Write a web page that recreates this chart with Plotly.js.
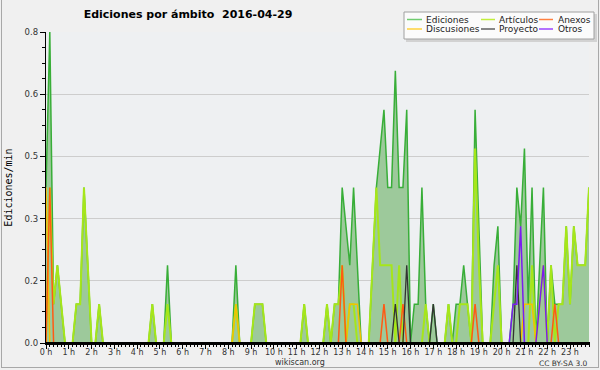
<!DOCTYPE html>
<html><head><meta charset="utf-8">
<script src="https://cdn.plot.ly/plotly-3.0.1.min.js"></script>
<style>
html,body{margin:0;padding:0;background:#f0f0f0;}
#chart{width:600px;height:370px;}
#frame{position:absolute;left:1px;top:0px;width:596px;height:367px;border:1px solid #a8a8a8;border-top:none;pointer-events:none;}
</style></head><body>
<div id="chart"></div><div id="frame"></div>
<script>
// ---- data: edits per minute, 10-minute bins from 00:00 to 23:50 (144 bins) ----
const seriesNames = ['Ediciones','Artículos','Anexos','Discusiones','Proyecto','Otros'];

const ediciones = [
 0.4,0.8,0.1,0.2,0.1,0,0,0,0.1,0.1,0.4,0.2,
 0,0,0.1,0,0,0,0,0,0,0,0,0,
 0,0,0,0,0.1,0,0,0,0.2,0,0,0,
 0,0,0,0,0,0,0,0,0,0,0,0,
 0,0,0.2,0,0,0,0,0.1,0.1,0.1,0,0,
 0,0,0,0,0,0,0,0,0.1,0,0,0,
 0,0,0.1,0,0.1,0.1,0.4,0.3,0.2,0.4,0.2,0,
 0,0,0.2,0.4,0.5,0.6,0.4,0.4,0.7,0.4,0.4,0.6,
 0,0.1,0.1,0.4,0.1,0,0.1,0,0,0,0.1,0,
 0.1,0.1,0.2,0.1,0,0.6,0.3,0,0,0,0.2,0.3,
 0,0,0,0.1,0.4,0.3,0.5,0.1,0.4,0,0.2,0.4,
 0,0.2,0.1,0.1,0.1,0.3,0.1,0.3,0.2,0.2,0.2,0.4
];
const articulos = [
 0,0.4,0.1,0.2,0.1,0,0,0,0.1,0.1,0.4,0.2,
 0,0,0.1,0,0,0,0,0,0,0,0,0,
 0,0,0,0,0.1,0,0,0,0.1,0,0,0,
 0,0,0,0,0,0,0,0,0,0,0,0,
 0,0,0.1,0,0,0,0,0.1,0.1,0.1,0,0,
 0,0,0,0,0,0,0,0,0.1,0,0,0,
 0,0,0.1,0,0.1,0.1,0.2,0,0.1,0.1,0,0,
 0,0,0.2,0.4,0.2,0.2,0.2,0.2,0,0.2,0,0,
 0,0,0,0,0.1,0,0,0,0,0,0.1,0,
 0,0.1,0.1,0.1,0,0.5,0.2,0,0,0,0.1,0.2,
 0,0,0,0,0,0,0,0,0.2,0,0.1,0.2,
 0,0.2,0,0.1,0.1,0.3,0.1,0.3,0.2,0.2,0.2,0.4
];
const anexos = [
 0,0.4,0,0,0,0,0,0,0,0,0,0,
 0,0,0,0,0,0,0,0,0,0,0,0,
 0,0,0,0,0,0,0,0,0,0,0,0,
 0,0,0,0,0,0,0,0,0,0,0,0,
 0,0,0,0,0,0,0,0,0,0,0,0,
 0,0,0,0,0,0,0,0,0,0,0,0,
 0,0,0,0,0,0,0.2,0,0,0,0,0,
 0,0,0,0,0,0.1,0,0,0,0,0.1,0,
 0,0,0,0,0,0,0,0,0,0,0,0,
 0,0,0,0,0,0.1,0,0,0,0,0,0,
 0,0,0,0,0,0,0,0,0,0,0,0,
 0,0,0.1,0,0,0,0,0,0,0,0,0
];
const discusiones = [
 0.4,0,0,0,0,0,0,0,0,0,0,0,
 0,0,0,0,0,0,0,0,0,0,0,0,
 0,0,0,0,0,0,0,0,0,0,0,0,
 0,0,0,0,0,0,0,0,0,0,0,0,
 0,0,0.1,0,0,0,0,0,0,0,0,0,
 0,0,0,0,0,0,0,0,0,0,0,0,
 0,0,0,0,0,0,0,0,0.1,0.1,0.1,0,
 0,0,0,0,0,0,0,0,0,0,0,0,
 0,0,0,0,0,0,0,0,0,0,0,0,
 0,0,0,0,0,0,0,0,0,0,0,0,
 0,0,0,0,0,0,0.1,0.1,0.1,0,0,0,
 0,0,0,0,0,0,0,0,0,0,0,0
];
const proyecto = [
 0,0,0,0,0,0,0,0,0,0,0,0,
 0,0,0,0,0,0,0,0,0,0,0,0,
 0,0,0,0,0,0,0,0,0,0,0,0,
 0,0,0,0,0,0,0,0,0,0,0,0,
 0,0,0,0,0,0,0,0,0,0,0,0,
 0,0,0,0,0,0,0,0,0,0,0,0,
 0,0,0,0,0,0,0,0,0,0,0,0,
 0,0,0,0,0,0,0,0,0.1,0,0,0.2,
 0,0,0,0,0,0,0.1,0,0,0,0,0,
 0,0,0,0,0,0,0,0,0,0,0,0,
 0,0,0,0,0.2,0,0,0,0,0,0,0,
 0,0,0,0,0,0,0,0,0,0,0,0
];
const otros = [
 0,0,0,0,0,0,0,0,0,0,0,0,
 0,0,0,0,0,0,0,0,0,0,0,0,
 0,0,0,0,0,0,0,0,0,0,0,0,
 0,0,0,0,0,0,0,0,0,0,0,0,
 0,0,0,0,0,0,0,0,0,0,0,0,
 0,0,0,0,0,0,0,0,0,0,0,0,
 0,0,0,0,0,0,0,0,0,0,0,0,
 0,0,0,0,0,0,0,0,0,0,0,0,
 0,0,0,0,0,0,0,0,0,0,0,0,
 0,0,0,0,0,0,0,0,0,0,0,0,
 0,0,0,0.1,0.1,0.3,0,0,0,0,0.1,0.2,
 0,0,0,0,0,0,0,0,0,0,0,0
];

const hourTickVals = [0,1,2,3,4,5,6,7,8,9,10,11,12,13,14,15,16,17,18,19,20,21,22,23];
const hourTickText = ['0 h','1 h','2 h','3 h','4 h','5 h','6 h','7 h','8 h','9 h','10 h','11 h','12 h','13 h','14 h','15 h','16 h','17 h','18 h','19 h','20 h','21 h','22 h','23 h'];
const yTickVals = [0,0.16,0.32,0.48,0.64,0.8];
const yTickText = ['0.0','0.2','0.3','0.5','0.6','0.8'];

// ---- styling ----
const lineColors   = ['#38ae38','#a6e61a','#ff5a14','#f2c200','#333333','#7a1cf0'];
const legendColors = ['#70cc70','#c2ee3c','#ff8040','#ffd23c','#606060','#9b45ff'];
const lineWidths   = [1.5,2,1.5,1.5,1.3,1.5];

const hours = ediciones.map((_, i) => i / 6);   // bin start time in hours
const seriesData = [ediciones, articulos, anexos, discusiones, proyecto, otros];
const drawOrder = [0,1,3,2,4,5];

const traces = drawOrder.map(k => {
  const t = {x: hours, y: seriesData[k], type:'scatter', mode:'lines', name: seriesNames[k],
             line:{color: lineColors[k], width: lineWidths[k]}, hoverinfo:'skip'};
  if (k === 0) { t.fill = 'tozeroy'; t.fillcolor = '#9dc99b'; }
  return t;
});

// pixel -> paper helpers (plot area 46..589 x 32..343)
const PL=46, PR=589, PT=32, PB=343;
const px = v => (v - PL) / (PR - PL);
const py = v => (PB - v) / (PB - PT);

const shapes = [
  // baseline drawn above the traces so zero-valued segments stay hidden under the axis
  {type:'line', xref:'paper', yref:'paper', x0:px(45), x1:px(590), y0:py(343.5), y1:py(343.5), layer:'above', line:{color:'#000', width:3}},
  {type:'rect', xref:'paper', yref:'paper', x0:px(406), x1:px(597), y0:py(14), y1:py(42), fillcolor:'#d2d2d2', line:{width:0}},
  {type:'rect', xref:'paper', yref:'paper', x0:px(404), x1:px(594), y0:py(12), y1:py(39), fillcolor:'#fbfbfb', line:{color:'#a0a0a0', width:1}}
];
const annotations = [];
const legCols = [[407,422,424],[481,495,497],[539,553,556]];
const legRows = [19.5, 29];
const legOrder = [0,1,2,3,4,5];
legOrder.forEach((k, j) => {
  const c = legCols[j % 3], r = legRows[Math.floor(j / 3)];
  shapes.push({type:'line', xref:'paper', yref:'paper', x0:px(c[0]), x1:px(c[1]), y0:py(r), y1:py(r),
               line:{color: legendColors[k], width:1.5}});
  annotations.push({xref:'paper', yref:'paper', x:px(c[2]), y:py(r), xanchor:'left', yanchor:'middle',
               text: seriesNames[k], showarrow:false, font:{family:'DejaVu Sans', size:9, color:'#222'}});
});
annotations.push({xref:'paper', yref:'paper', x:px(300), y:py(362), xanchor:'center', yanchor:'middle',
  text:'wikiscan.org', showarrow:false, font:{family:'DejaVu Sans', size:8, color:'#333'}});
annotations.push({xref:'paper', yref:'paper', x:px(590), y:py(363), xanchor:'right', yanchor:'middle',
  text:'CC BY-SA 3.0', showarrow:false, font:{family:'DejaVu Sans', size:7.5, color:'#333'}});

const layout = {
  width:600, height:370,
  margin:{l:46, r:11, t:32, b:27, pad:0},
  paper_bgcolor:'#f0f0f0', plot_bgcolor:'#eef0f2',
  showlegend:false,
  title:{text:'Ediciones por ámbito\u00a0 2016-04-29', xref:'container', yref:'container',
         x:188/600, xanchor:'center', y:1-14/370, yanchor:'middle',
         font:{family:'DejaVu Sans', size:11, color:'#000', weight:'bold'}},
  xaxis:{range:[0, 143/6], tickmode:'array', tickvals:hourTickVals, ticktext:hourTickText,
         ticks:'outside', ticklen:5, tickcolor:'#000', tickwidth:1,
         showline:true, linecolor:'#000', linewidth:1, showgrid:false, zeroline:false,
         ticklabelstandoff:-4,
         tickfont:{family:'DejaVu Sans', size:8, color:'#333'},
         minor:{tick0:0, dtick:1/6, ticks:'outside', ticklen:3, tickcolor:'#000', tickwidth:1, showgrid:false},
         fixedrange:true},
  yaxis:{range:[0, 0.8], tickmode:'array', tickvals:yTickVals, ticktext:yTickText,
         ticks:'outside', ticklen:5, tickcolor:'#000', tickwidth:1,
         showline:true, linecolor:'#000', linewidth:1.2, showgrid:true, gridcolor:'#cdcdcd', gridwidth:1, zeroline:false,
         tickfont:{family:'DejaVu Sans', size:8.5, color:'#333'},
         minor:{tick0:0, dtick:0.04, ticks:'outside', ticklen:3, tickcolor:'#000', tickwidth:1, showgrid:false},
         title:{text:'Ediciones/min', font:{family:'DejaVu Sans Mono', size:10, color:'#000'}, standoff:10},
         fixedrange:true},
  shapes: shapes,
  annotations: annotations
};

Plotly.newPlot('chart', traces, layout, {displayModeBar:false, staticPlot:true});
</script>
</body></html>
